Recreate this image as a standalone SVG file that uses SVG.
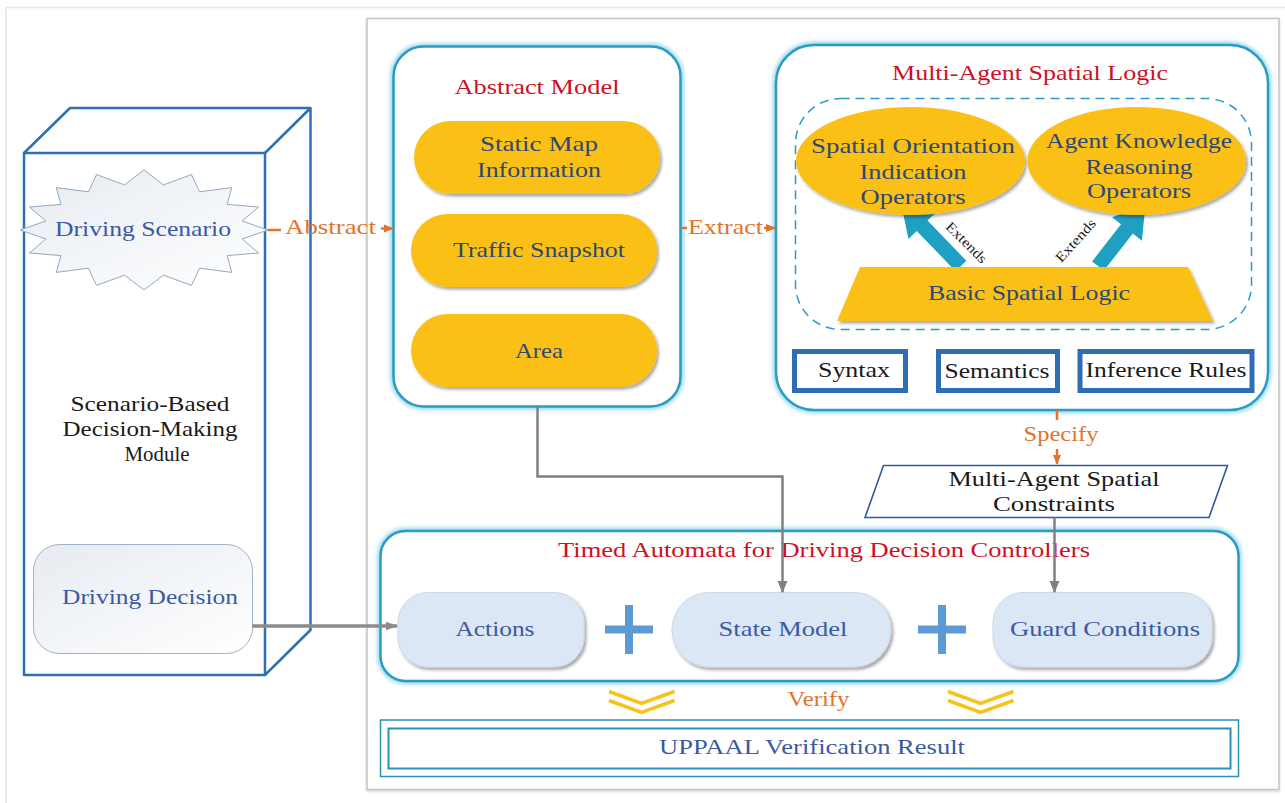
<svg xmlns="http://www.w3.org/2000/svg" width="1285" height="803" viewBox="0 0 1285 803">
  <defs>
    <style>
      text { font-family: 'Liberation Serif', 'DejaVu Serif', serif; font-size: 22px; text-anchor: middle; }
      .blue { fill: #3a5aa3; }
      .dark { fill: #2d4874; }
      .red { fill: #cc1126; }
      .orange { fill: #e2742a; }
      .black { fill: #1a1a1a; }
      .small { font-size: 14px; }
      .panel { fill: #ffffff; stroke: #2a9cc4; stroke-width: 2.5; }
      .halo { fill: none; stroke: #8fd3ea; stroke-width: 6; filter: url(#blur); }
      .pill { fill: #fbc012; filter: url(#shadow); }
      .soft { fill: #dbe7f4; stroke: #c9d8ea; stroke-width: 1; filter: url(#shadow); }
      .tile { fill: #ffffff; stroke: #2e6db4; stroke-width: 5; }
      .cube { fill: none; stroke: #2f6fb4; stroke-width: 2.5; stroke-linejoin: round; }
      .wire { fill: none; stroke: #808080; stroke-width: 2.5; }
      .flow { fill: none; stroke: #e2742a; stroke-width: 2.5; }
      .plus { stroke: #5b9bd5; stroke-width: 8; }
      .chev { fill: none; stroke: #f7c21a; stroke-width: 3.5; }
      .teal { fill: #1fa0c2; }
    </style>
    <filter id="blur" x="-10%" y="-10%" width="120%" height="120%">
      <feGaussianBlur stdDeviation="2"/>
    </filter>
    <filter id="shadow" x="-10%" y="-10%" width="125%" height="130%">
      <feDropShadow dx="2" dy="2.5" stdDeviation="1.5" flood-color="#000000" flood-opacity="0.35"/>
    </filter>
    <filter id="frameShadow" x="-2%" y="-2%" width="104%" height="104%">
      <feDropShadow dx="0" dy="1.5" stdDeviation="1" flood-color="#000000" flood-opacity="0.18"/>
    </filter>
    <linearGradient id="cloud" x1="0" y1="0" x2="1" y2="1">
      <stop offset="0" stop-color="#e6ebf1"/>
      <stop offset="1" stop-color="#ffffff"/>
    </linearGradient>
    <marker id="headGray" viewBox="0 0 10 10" refX="9" refY="5" markerWidth="5" markerHeight="5" markerUnits="strokeWidth" orient="auto">
      <path d="M0,1 L10,5 L0,9 Z" fill="#808080"/>
    </marker>
    <marker id="headGrayWide" viewBox="0 0 10 10" refX="9" refY="5" markerWidth="6" markerHeight="3.5" markerUnits="strokeWidth" orient="auto">
      <path d="M0,1.5 L10,5 L0,8.5 Z" fill="#8c8c8c"/>
    </marker>
    <marker id="headOrange" viewBox="0 0 10 10" refX="9" refY="5" markerWidth="4" markerHeight="4" markerUnits="strokeWidth" orient="auto">
      <path d="M0,1 L10,5 L0,9 Z" fill="#e2742a"/>
    </marker>
  </defs>

  <!-- page background and frames -->
  <rect x="0" y="0" width="1285" height="803" fill="#ffffff"/>
  <path d="M6,803 V7.5 H1285" fill="none" stroke="#e6e6e6" stroke-width="1.5"/>
  <rect x="367" y="18.5" width="912" height="771" fill="#ffffff" stroke="#c4c4c4" stroke-width="1.5" filter="url(#frameShadow)"/>

  <!-- decision-making module (cuboid) -->
  <g id="module">
    <rect class="cube" x="24" y="153" width="241" height="522"/>
    <path class="cube" d="M24,153 L70,108 H310.5 L265,153 M310.5,108 V630 L265,675"/>
    <text class="black" x="150" y="411" textLength="159" lengthAdjust="spacingAndGlyphs">Scenario-Based</text>
    <text class="black" x="150" y="436" textLength="175" lengthAdjust="spacingAndGlyphs">Decision-Making</text>
    <text class="black" x="157" y="461" textLength="65" lengthAdjust="spacingAndGlyphs">Module</text>
  </g>

  <g id="driving-scenario">
    <polygon points="268,230 242.1,221 258.6,207 227.2,204.4 231.7,187.6 199.6,191.8 191.5,174.6 163.5,184.9 144,170 124.5,184.9 96.5,174.6 88.4,191.8 56.3,187.6 60.9,204.4 29.4,207 45.9,221 20,230 45.9,239 29.4,253 60.9,255.6 56.3,272.4 88.4,268.2 96.5,285.4 124.5,275.1 144,290 163.5,275.1 191.5,285.4 199.6,268.2 231.7,272.4 227.2,255.6 258.6,253 242.1,239" fill="url(#cloud)" stroke="#95a8bf" stroke-width="1"/>
    <text class="blue" x="143" y="236" textLength="176" lengthAdjust="spacingAndGlyphs">Driving Scenario</text>
  </g>

  <g id="driving-decision">
    <rect x="33.5" y="544.5" width="219" height="109" rx="26" fill="url(#cloud)" stroke="#9fb2c8" stroke-width="1"/>
    <text class="blue" x="150" y="604" textLength="176" lengthAdjust="spacingAndGlyphs">Driving Decision</text>
  </g>

  <!-- abstract model panel -->
  <g id="abstract-model">
    <rect class="halo" x="393.5" y="46.5" width="287" height="360" rx="30"/>
    <rect class="panel" x="393.5" y="46.5" width="287" height="360" rx="30"/>
    <text class="red" x="537" y="94" textLength="165" lengthAdjust="spacingAndGlyphs">Abstract Model</text>
    <g id="static-map">
      <rect class="pill" x="414" y="121" width="246" height="73" rx="36.5"/>
      <text class="dark" x="539" y="151" textLength="118" lengthAdjust="spacingAndGlyphs">Static Map</text>
      <text class="dark" x="539" y="177" textLength="124" lengthAdjust="spacingAndGlyphs">Information</text>
    </g>
    <g id="traffic-snapshot">
      <rect class="pill" x="411" y="214" width="246" height="73" rx="36.5"/>
      <text class="dark" x="539" y="257" textLength="172" lengthAdjust="spacingAndGlyphs">Traffic Snapshot</text>
    </g>
    <g id="area">
      <rect class="pill" x="411" y="314" width="246" height="73" rx="36.5"/>
      <text class="dark" x="539" y="358" textLength="48" lengthAdjust="spacingAndGlyphs">Area</text>
    </g>
  </g>

  <!-- multi-agent spatial logic panel -->
  <g id="spatial-logic">
    <rect class="halo" x="776" y="45" width="492" height="365" rx="38"/>
    <rect class="panel" x="776" y="45" width="492" height="365" rx="38"/>
    <text class="red" x="1030" y="80" textLength="276" lengthAdjust="spacingAndGlyphs">Multi-Agent Spatial Logic</text>
    <rect x="795.5" y="98.5" width="456" height="231" rx="45" fill="none" stroke="#2a9cc4" stroke-width="1.5" stroke-dasharray="9,6"/>

    <!-- "Extends" block arrows -->
    <path class="teal" d="M0,-7.5 H56 V-19 L86,0 L56,19 V7.5 H0 Z" transform="translate(961,266) rotate(-134)"/>
    <path class="teal" d="M0,-7.5 H47 V-19 L77,0 L47,19 V7.5 H0 Z" transform="translate(1098,266) rotate(-52)"/>
    <text class="black small" x="966" y="247" textLength="52" lengthAdjust="spacingAndGlyphs" transform="rotate(45 966 243)">Extends</text>
    <text class="black small" x="1076" y="245" textLength="53" lengthAdjust="spacingAndGlyphs" transform="rotate(-48 1076 241)">Extends</text>

    <g id="orientation-operators">
      <ellipse cx="910.5" cy="161" rx="114.5" ry="54" class="pill"/>
      <text class="dark" x="913" y="152.5" textLength="204" lengthAdjust="spacingAndGlyphs">Spatial Orientation</text>
      <text class="dark" x="913" y="178.5" textLength="107" lengthAdjust="spacingAndGlyphs">Indication</text>
      <text class="dark" x="913" y="203.5" textLength="105" lengthAdjust="spacingAndGlyphs">Operators</text>
    </g>
    <g id="knowledge-operators">
      <ellipse cx="1136.7" cy="161" rx="109.4" ry="54" class="pill"/>
      <text class="dark" x="1139" y="147.5" textLength="186" lengthAdjust="spacingAndGlyphs">Agent Knowledge</text>
      <text class="dark" x="1139" y="173.5" textLength="107" lengthAdjust="spacingAndGlyphs">Reasoning</text>
      <text class="dark" x="1139" y="198" textLength="104" lengthAdjust="spacingAndGlyphs">Operators</text>
    </g>
    <g id="basic-spatial-logic">
      <polygon class="pill" points="860,267 1188,267 1213,321 837,321"/>
      <text class="dark" x="1029" y="300" textLength="202" lengthAdjust="spacingAndGlyphs">Basic Spatial Logic</text>
    </g>

    <g id="syntax">
      <rect class="tile" x="794.5" y="351.5" width="111" height="39"/>
      <text class="black" x="854" y="377" textLength="72" lengthAdjust="spacingAndGlyphs">Syntax</text>
    </g>
    <g id="semantics">
      <rect class="tile" x="938.5" y="351.5" width="119" height="39"/>
      <text class="black" x="997" y="378" textLength="105" lengthAdjust="spacingAndGlyphs">Semantics</text>
    </g>
    <g id="inference-rules">
      <rect class="tile" x="1080" y="351.5" width="172" height="39"/>
      <text class="black" x="1166" y="377" textLength="161" lengthAdjust="spacingAndGlyphs">Inference Rules</text>
    </g>
  </g>

  <!-- constraints -->
  <g id="spatial-constraints">
    <polygon points="883.5,465.5 1227.5,465.5 1209,517.5 865,517.5" fill="#ffffff" stroke="#2d5a9e" stroke-width="1.6"/>
    <text class="black" x="1054" y="486" textLength="211" lengthAdjust="spacingAndGlyphs">Multi-Agent Spatial</text>
    <text class="black" x="1054" y="510.5" textLength="122" lengthAdjust="spacingAndGlyphs">Constraints</text>
  </g>

  <!-- timed automata panel -->
  <g id="timed-automata">
    <rect class="halo" x="380.5" y="531" width="858" height="150" rx="25"/>
    <rect class="panel" x="380.5" y="531" width="858" height="150" rx="25"/>
    <text class="red" x="824" y="557" textLength="532" lengthAdjust="spacingAndGlyphs">Timed Automata for Driving Decision Controllers</text>
    <g id="actions">
      <rect class="soft" x="398" y="592.5" width="186" height="74.5" rx="30"/>
      <text class="blue" x="495" y="636" textLength="79" lengthAdjust="spacingAndGlyphs">Actions</text>
    </g>
    <line class="plus" x1="605" y1="629.5" x2="653" y2="629.5"/>
    <line class="plus" x1="629" y1="605" x2="629" y2="654"/>
    <g id="state-model">
      <rect class="soft" x="672" y="592.5" width="219" height="74.5" rx="37"/>
      <text class="blue" x="783" y="636" textLength="129" lengthAdjust="spacingAndGlyphs">State Model</text>
    </g>
    <line class="plus" x1="918" y1="629.5" x2="966" y2="629.5"/>
    <line class="plus" x1="942" y1="605" x2="942" y2="654"/>
    <g id="guard-conditions">
      <rect class="soft" x="993" y="592.5" width="219" height="74.5" rx="30"/>
      <text class="blue" x="1105" y="636" textLength="190" lengthAdjust="spacingAndGlyphs">Guard Conditions</text>
    </g>
  </g>

  <!-- verification result -->
  <g id="uppaal-result">
    <rect x="380.5" y="720" width="858" height="56.5" fill="#ffffff" stroke="#2a90b4" stroke-width="1.5"/>
    <rect x="388.5" y="728.5" width="842" height="40" fill="none" stroke="#2a90b4" stroke-width="2"/>
    <text class="blue" x="812" y="754" textLength="306" lengthAdjust="spacingAndGlyphs">UPPAAL Verification Result</text>
  </g>

  <!-- connectors -->
  <g id="connectors">
    <line class="flow" x1="268" y1="230" x2="281" y2="230"/>
    <text class="orange" x="330.5" y="234" textLength="91" lengthAdjust="spacingAndGlyphs">Abstract</text>
    <line class="flow" x1="381" y1="228.5" x2="393" y2="228.5" marker-end="url(#headOrange)"/>

    <line class="flow" x1="681" y1="228" x2="687" y2="228"/>
    <text class="orange" x="725.5" y="234" textLength="75" lengthAdjust="spacingAndGlyphs">Extract</text>
    <line class="flow" x1="764" y1="228" x2="775" y2="228" marker-end="url(#headOrange)"/>

    <line class="flow" x1="1057" y1="410" x2="1057" y2="420"/>
    <text class="orange" x="1061" y="440.5" textLength="75" lengthAdjust="spacingAndGlyphs">Specify</text>
    <line class="flow" x1="1057" y1="449" x2="1057" y2="464" marker-end="url(#headOrange)"/>

    <path class="wire" d="M537.5,407 V476.5 H782.5 V592" marker-end="url(#headGray)"/>
    <path class="wire" d="M1054.5,517.5 V592" marker-end="url(#headGray)"/>
    <path d="M252,626 H397" fill="none" stroke="#8c8c8c" stroke-width="3.5" marker-end="url(#headGrayWide)"/>

    <path class="chev" d="M609,691.5 L641.5,703.5 L674.5,691.5 M609,700.5 L641.5,712.5 L674.5,700.5"/>
    <path class="chev" d="M948,691.5 L980.5,703.5 L1013.5,691.5 M948,700.5 L980.5,712.5 L1013.5,700.5"/>
    <text class="orange" x="818.5" y="706" textLength="62" lengthAdjust="spacingAndGlyphs">Verify</text>
  </g>
</svg>
